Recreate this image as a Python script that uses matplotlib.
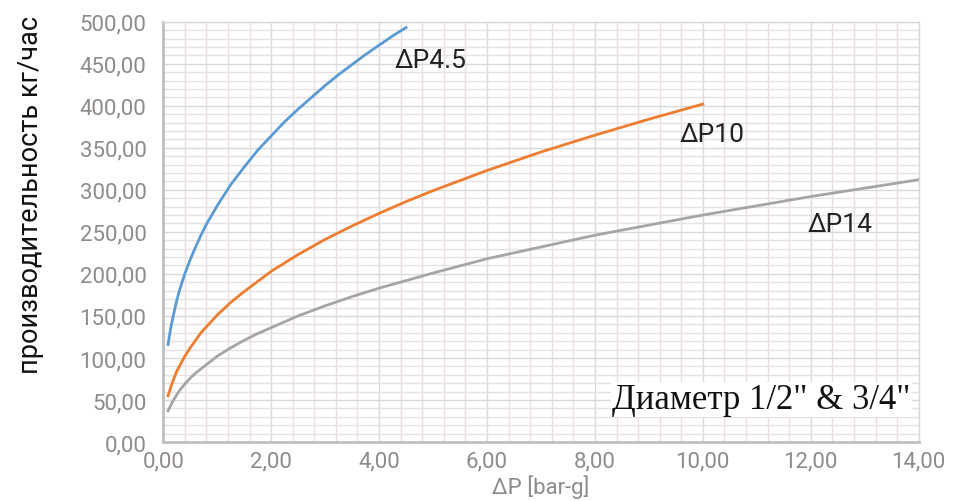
import matplotlib
matplotlib.use("Agg")
import matplotlib.pyplot as plt
from matplotlib.ticker import MultipleLocator, FuncFormatter

# values
dp45_x = [0.09, 0.12, 0.15, 0.20, 0.25, 0.30, 0.40, 0.50, 0.60, 0.70, 0.80, 0.90, 1.00,
          1.25, 1.50, 1.75, 2.00, 2.25, 2.50, 2.75, 3.00, 3.25, 3.50, 3.75, 4.00, 4.25, 4.50]
dp45_y = [116, 128, 139, 154, 168, 180, 200, 217, 232, 246, 259, 270, 281,
          306, 327, 347, 364, 381, 396, 410, 424, 437, 449, 461, 472, 483, 493]

dp10_x = [0.09, 0.12, 0.15, 0.20, 0.25, 0.30, 0.40, 0.50, 0.60, 0.70, 0.80, 0.90, 1.00,
          1.25, 1.50, 1.75, 2.00, 2.50, 3.00, 3.50, 4.00, 4.50, 5.00, 6.00, 7.00, 8.00,
          9.00, 10.00]
dp10_y = [55, 61, 67, 76, 84, 90, 102, 112, 121, 130, 137, 144, 151,
          166, 179, 191, 203, 223, 241, 257, 272, 286, 299, 323, 345, 365,
          384, 402]

dp14_x = [0.09, 0.12, 0.15, 0.20, 0.25, 0.30, 0.40, 0.50, 0.60, 0.70, 0.80, 0.90, 1.00,
          1.25, 1.50, 1.75, 2.00, 2.50, 3.00, 3.50, 4.00, 4.50, 5.00, 6.00, 7.00,
          8.00, 9.00, 10.00, 11.00, 12.00, 13.00, 14.00]
dp14_y = [37, 41, 45, 51, 56, 61, 69, 76, 82, 87, 92, 97, 102,
          112, 121, 129, 136, 150, 162, 173, 183, 192, 201, 218, 232,
          246, 258, 270, 281, 292, 302, 312]

labels = ["ΔP4.5", "ΔP10", "ΔP14"]
colors = ["#5b9bd5", "#ed7d31", "#a5a5a5"]

tick_font = ["Roboto", "DejaVu Sans"]
tick_color = "#8f8b89"

fig = plt.figure(figsize=(9.6, 5.02), dpi=100)
ax = fig.add_axes([0.170, 0.1175, 0.787, 0.8373])

ax.plot(dp45_x, dp45_y, color=colors[0], lw=2.0)
ax.plot(dp10_x, dp10_y, color=colors[1], lw=2.0)
ax.plot(dp14_x, dp14_y, color=colors[2], lw=2.0)

ax.set_xlim(0, 14)
ax.set_ylim(0, 500)

ax.xaxis.set_major_locator(MultipleLocator(2))
ax.xaxis.set_minor_locator(MultipleLocator(0.4))
ax.yaxis.set_major_locator(MultipleLocator(50))
ax.yaxis.set_minor_locator(MultipleLocator(10))

fmt = FuncFormatter(lambda v, p: f"{v:.2f}".replace(".", ","))
ax.xaxis.set_major_formatter(fmt)
ax.yaxis.set_major_formatter(fmt)

ax.grid(which="major", color="#d9d9d9", lw=1.0)
ax.grid(which="minor", color="#e8e0e0", lw=1.0)
ax.set_axisbelow(True)

for s in ["top", "right"]:
    ax.spines[s].set_color("#d9d9d9")
    ax.spines[s].set_linewidth(1.0)
for s in ["left", "bottom"]:
    ax.spines[s].set_color("#bfbfbf")
    ax.spines[s].set_linewidth(2.0)

ax.tick_params(which="both", length=0)
ax.tick_params(axis="y", pad=12)
ax.tick_params(axis="x", pad=6)
for lab in ax.get_xticklabels() + ax.get_yticklabels():
    lab.set_family(tick_font)
    lab.set_fontsize(16)
    lab.set_color(tick_color)

ax.set_xlabel("ΔP [bar-g]", family=tick_font, fontsize=16, color=tick_color, labelpad=2)
ax.set_ylabel("производительность кг/час", family=["Roboto", "DejaVu Sans"], fontsize=19.5,
              color="#111111")
ax.yaxis.set_label_coords(-0.158, 0.59)

# curve labels
lab_font = ["Roboto", "DejaVu Sans"]
ax.text(4.29, 455, labels[0], family=lab_font, fontsize=19, color="#222222", va="center")
ax.text(9.57, 366, labels[1], family=lab_font, fontsize=19, color="#222222", va="center")
ax.text(11.94, 259, labels[2], family=lab_font, fontsize=19, color="#222222", va="center")

ax.text(13.85, 31, 'Диаметр 1/2" & 3/4"', family=["Liberation Serif", "DejaVu Serif"],
        fontsize=25, color="#111111", ha="right", va="bottom",
        bbox=dict(facecolor="white", edgecolor="none", pad=1))

fig.savefig("out.png", dpi=100)
